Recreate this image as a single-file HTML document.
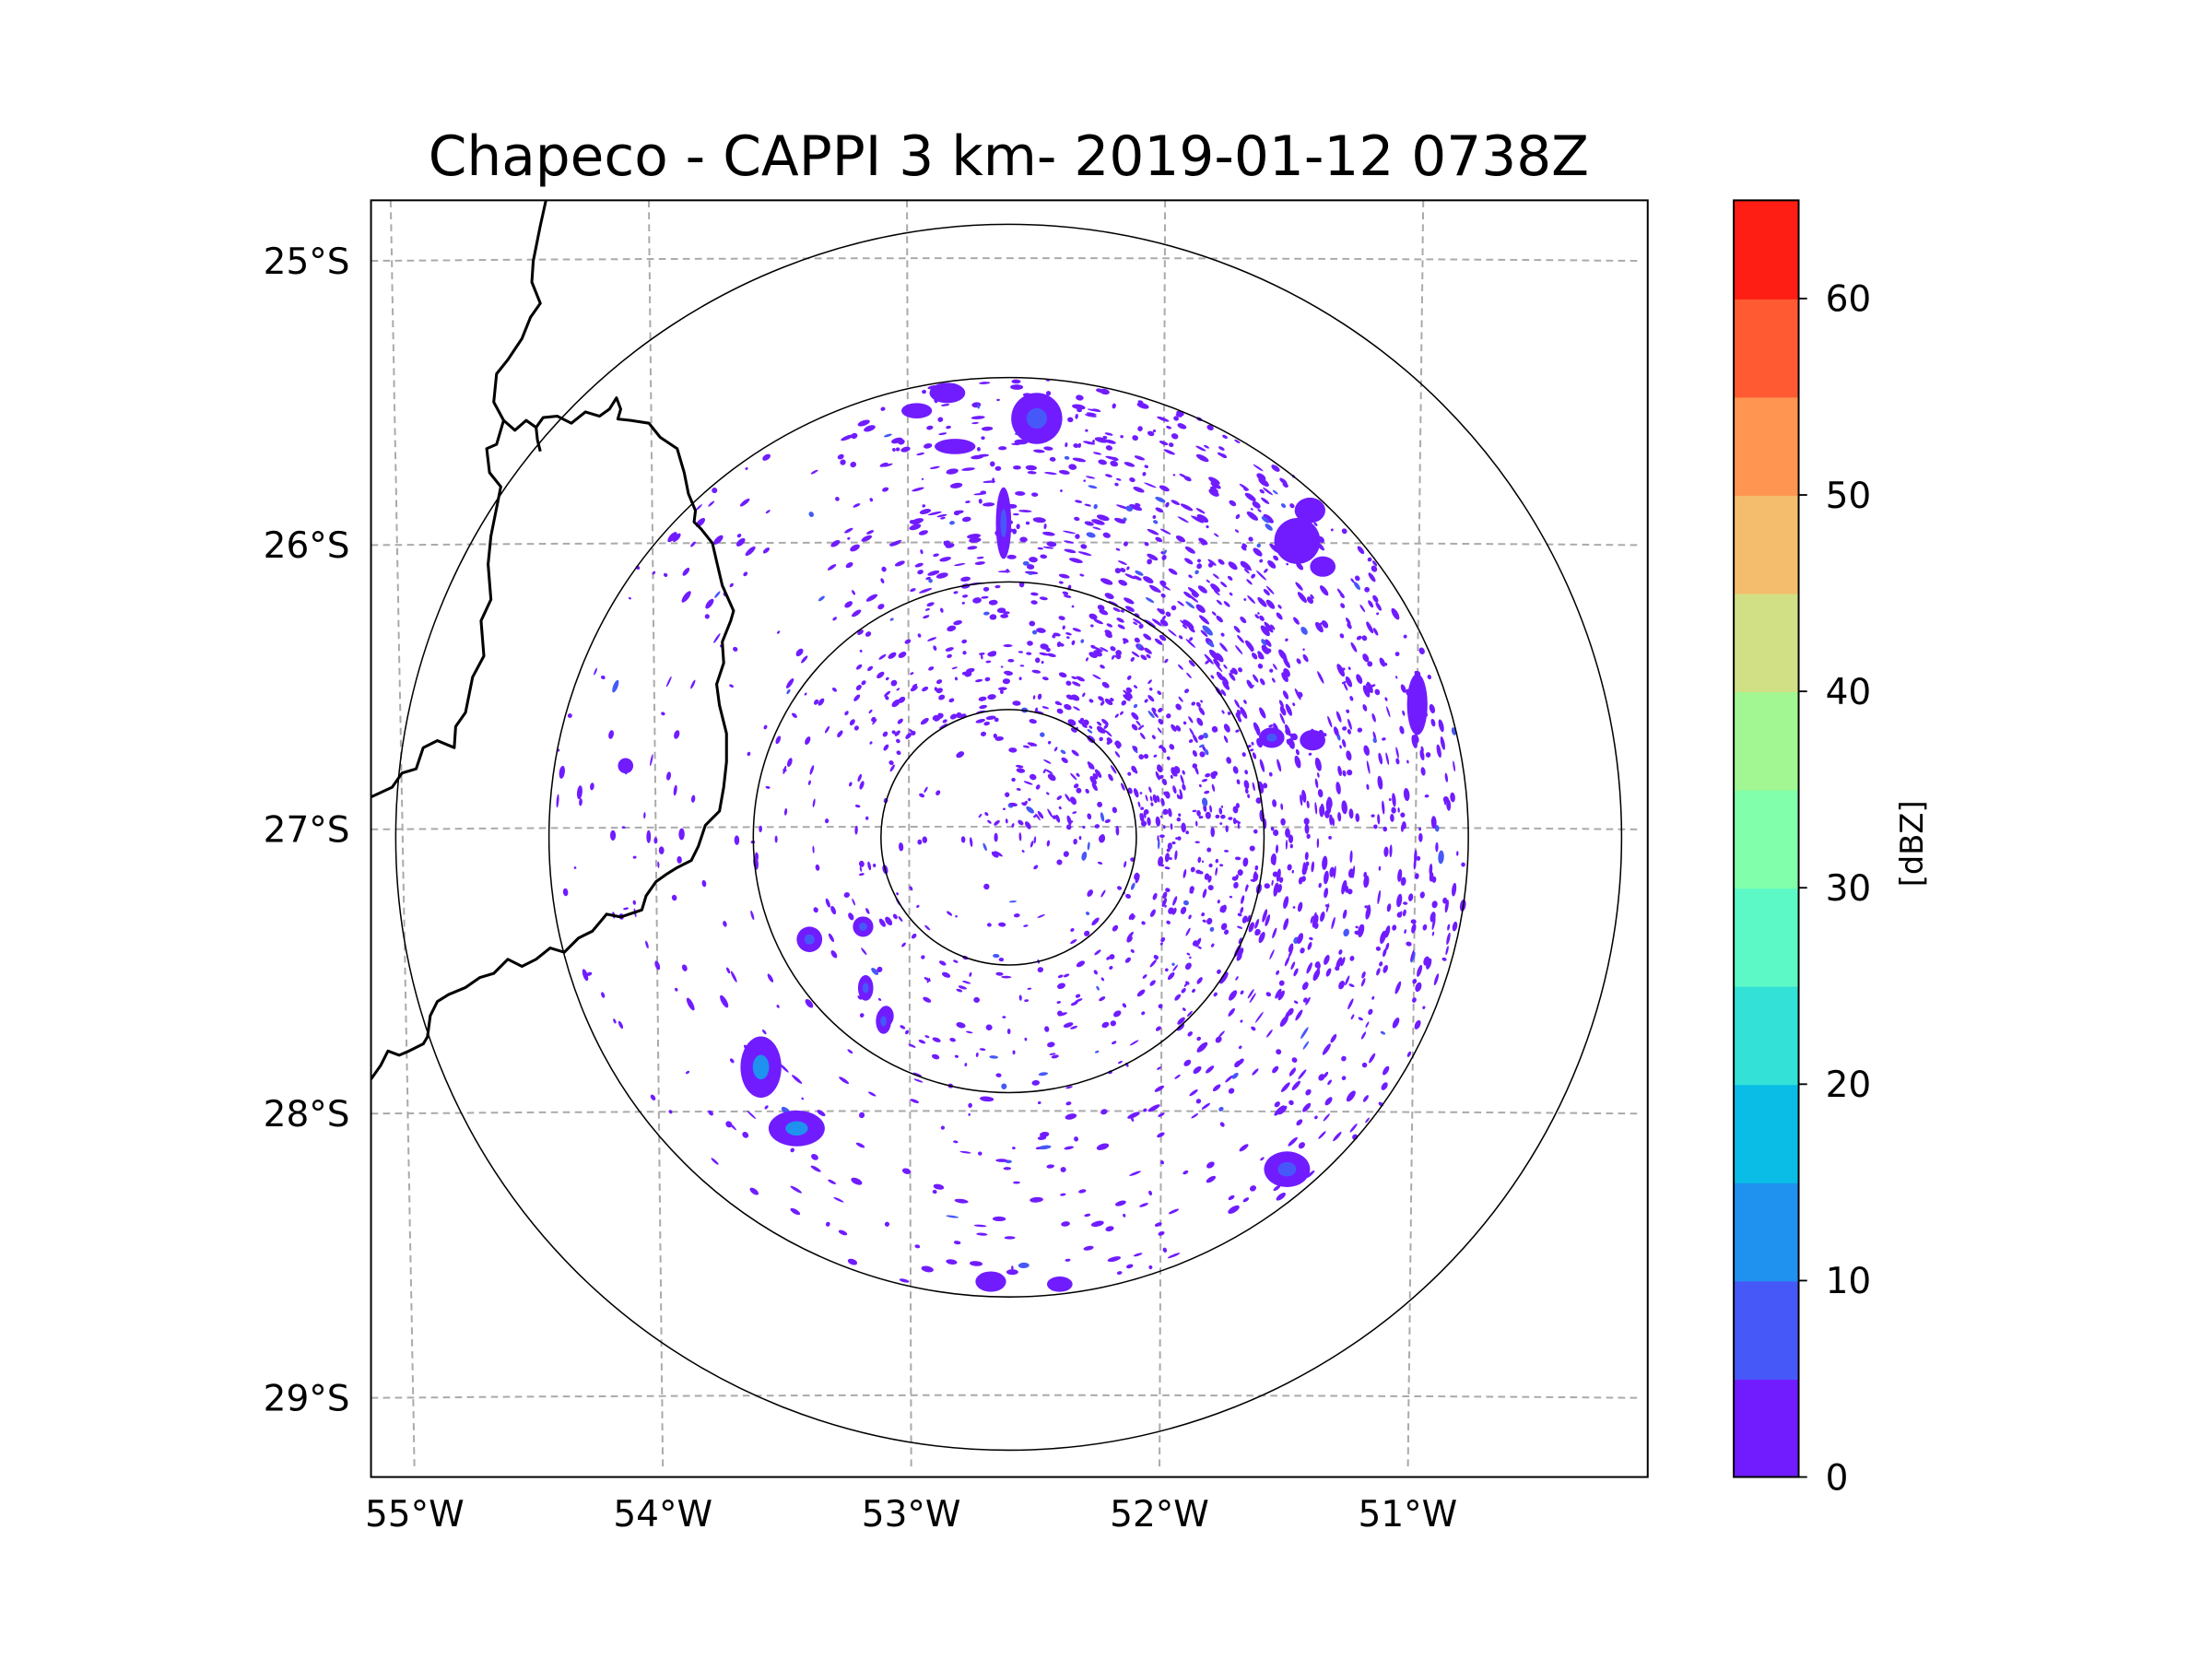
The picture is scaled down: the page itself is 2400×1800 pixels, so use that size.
<!DOCTYPE html>
<html>
<head>
<meta charset="utf-8">
<style>
  html,body{margin:0;padding:0;background:#fff;}
  svg{display:block;}
  text{font-family:"DejaVu Sans","Liberation Sans",sans-serif;fill:#000;}
</style>
</head>
<body>
<svg id="fig" width="2400" height="1800" viewBox="0 0 1568 1176" xmlns="http://www.w3.org/2000/svg">
  <rect x="0" y="0" width="1568" height="1176" fill="#fff"/>
  <text x="715" y="124" font-size="39" text-anchor="middle">Chapeco - CAPPI 3 km- 2019-01-12 0738Z</text>
  <defs>
    <clipPath id="plotclip"><rect x="263" y="142" width="905" height="905"/></clipPath>
  </defs>
  <g id="plot" clip-path="url(#plotclip)">
    <g id="grid"></g>
    <g id="echoes"></g>
    <g id="rings"></g>
    <g id="borders"></g>
  </g>
  <rect x="263" y="142" width="905" height="905" fill="none" stroke="#000" stroke-width="1.3"/>
  <g id="xticks"></g>
  <g id="yticks"></g>
  <g id="cbar"></g>
  <text transform="translate(1363,598) rotate(-90)" font-size="22" text-anchor="middle">[dBZ]</text>
</svg>
<script>
// ---- data ----
const cbarLevels = [0,5,10,15,20,25,30,35,40,45,50,55,60,65];
const cbarColors = ["#701cff","#4659f8","#1f91ee","#0abde6","#34e1d6","#5cf8c6","#82ffaa","#a2f792","#d1e085","#f4bd6d","#ff9550","#ff5a32","#ff1e14"];
const cbarTicks = [0,10,20,30,40,50,60];
const lonTicks = [-55,-54,-53,-52,-51];
const latTicks = [-25,-26,-27,-28,-29];
const ringKm = [50,100,180,240];
// major echo cells: [dx_km, dy_km (south +), rx_km, ry_km, dBZ]
const cellDx = [11,-2,113,103,119,160,-97,-83,-78,-57,-56,-48,-49,-36,-24,109,-7,20,-21,-150,118,123];
const cellDy = [-164,-123,-116,-39,-38,-52,90,114,40,35,59,70,72,-167,-174,130,174,175,-153,-28,-128,-106];
const cellRx = [10,3,9,5,5,4,8,11,5,4,3,3,3,6,7,9,6,5,8,3,6,5];
const cellRy = [10,14,9,4,4,12,12,7,5,4,5,4,5,3,4,7,4,3,3,3,5,4];
const cellDbz = [8,8,4,6,4,4,12,11,8,6,6,6,6,2,2,6,2,2,2,2,2,2];

// ---- geometry ----
const CX = 715, CY = 593.5, PXKM = 1.8103;
const X0=263,X1=1168,Y0=142,Y1=1047;
const NS="http://www.w3.org/2000/svg";
function mk(tag, attrs, parent){const e=document.createElementNS(NS,tag);for(const k in attrs)e.setAttribute(k,attrs[k]);parent.appendChild(e);return e;}
function kScale(y){return 183 + (176-183)*(y-Y0)/(Y1-Y0);}
function lonX(lon,y){return 721.6 + (lon+52.57)*kScale(y);}
function latY(lat,x){const u=(x-715)/460;return 185 + (-25-lat)*201.5 - 2*(1-u*u);}
function kmX(d){return CX + d*PXKM;}
function kmY(d){return CY + d*PXKM;}
function colorFor(v){let i=Math.floor(v/5);if(i<0)i=0;if(i>12)i=12;return cbarColors[i];}

// gridlines
const grid=document.getElementById('grid');
[-55,-54,-53,-52,-51,-50].forEach(lon=>{
  let d="";for(let y=Y0;y<=Y1;y+=15){d+=(y===Y0?"M":"L")+lonX(lon,y).toFixed(1)+","+y;}
  const p=mk('path',{d:d,fill:'none',stroke:'#aaaaaa','stroke-width':1.3,'stroke-dasharray':'5,3.5'},grid);
  
  
});
latTicks.forEach(lat=>{
  let d="";for(let x=X0;x<=X1;x+=15){d+=(x===X0?"M":"L")+x+","+latY(lat,x).toFixed(1);}
  const p=mk('path',{d:d,fill:'none',stroke:'#aaaaaa','stroke-width':1.3,'stroke-dasharray':'5,3.5'},grid);
  
  
});

// tick labels
const xt=document.getElementById('xticks');
lonTicks.forEach(lon=>{
  const t=mk('text',{x:lonX(lon,Y1).toFixed(1),y:1082,'font-size':25.5,'text-anchor':'middle'},xt);
  t.textContent=Math.abs(lon)+"°W";
  
  
});
const yt=document.getElementById('yticks');
latTicks.forEach(lat=>{
  const t=mk('text',{x:248,y:(latY(lat,X0)+9).toFixed(1),'font-size':25.5,'text-anchor':'end'},yt);
  t.textContent=Math.abs(lat)+"°S";
  
  
});

// speckle echoes (texture)
const ech=document.getElementById('echoes');
let seed=12345;function rnd(){seed=(seed*1103515245+12345)%2147483648;return seed/2147483648;}
for(let i=0;i<6500;i++){
  const r=8+rnd()*318, th=rnd()*Math.PI*2;
  let w=0.2+0.6*Math.max(0,Math.cos(th+0.45));
  if(Math.sin(th)<-0.5) w+=0.15;
  if(r<90) w*=0.35*(r/90);
  else if(r<180) w*=0.8;
  if(r>180 && Math.cos(th)<-0.3) w*=0.55;
  if(rnd()>w) continue;
  const x=CX+r*Math.cos(th), y=CY+r*Math.sin(th);
  const rx=0.8+rnd()*(r>180?4.2:2.8), ry=0.7+rnd()*1.4;
  const ang=th*180/Math.PI+90;
  const e=mk('ellipse',{cx:x.toFixed(1),cy:y.toFixed(1),rx:rx.toFixed(1),ry:ry.toFixed(1),fill:rnd()<0.05?"#4659f8":"#701cff",transform:`rotate(${ang.toFixed(0)} ${x.toFixed(1)} ${y.toFixed(1)})`},ech);
  
  
}
// major cells
for(let i=0;i<cellDx.length;i++){
  const x=kmX(cellDx[i]), y=kmY(cellDy[i]);
  const e=mk('ellipse',{cx:x,cy:y,rx:cellRx[i]*PXKM,ry:cellRy[i]*PXKM,fill:"#701cff"},ech);
  
  
  if(cellDbz[i]>=5){
    const c=mk('ellipse',{cx:x,cy:y,rx:cellRx[i]*PXKM*0.4,ry:cellRy[i]*PXKM*0.4,fill:colorFor(cellDbz[i])},ech);
    
    
  }
}

// rings
const rg=document.getElementById('rings');
ringKm.forEach(km=>{
  const c=mk('circle',{cx:CX,cy:CY,r:km*PXKM,fill:'none',stroke:'#000','stroke-width':1},rg);
  
  
});

// borders
const bd=document.getElementById('borders');
const bA="387,142 383,160 378,185 377,200 383,215 376,225 370,240 360,255 352,265 350,285 357,298 352,315 345,318 347,335 355,345 352,360 348,380 346,400 348,425 341,440 343,465 335,480 330,505 323,515 322,530 310,525 300,530 295,545 285,548 278,558 263,565";
const bB="357,298 365,305 373,298 380,303 385,296 395,295 405,300 415,292 425,295 432,290 437,282 440,290 438,297 447,298 460,300 468,310 480,318 485,335 488,350 493,362 492,370 497,375 505,385 508,398 512,415 520,433 518,440 512,455 513,470 508,485 510,500 515,520 515,540 513,558 510,575 500,585 495,600 490,610 480,615 472,620 465,625 458,635 455,645 440,650 430,648 420,660 410,665 400,675 390,672 380,680 370,685 360,680 350,690 340,693 330,700 318,705 310,710 305,720 303,735 300,740 290,745 283,748 275,745 270,755 263,765";
const bC="380,303 381,312 383,320";
[bA,bB,bC].forEach(pts=>{
  const p=mk('polyline',{points:pts,fill:'none',stroke:'#000','stroke-width':2,'stroke-linejoin':'round'},bd);
  
  
});

// colorbar
const cb=document.getElementById('cbar');
const CBX=1229,CBW=46,CBY0=142,CBY1=1047;
function cbY(v){return CBY1-(v-cbarLevels[0])/(cbarLevels[cbarLevels.length-1]-cbarLevels[0])*(CBY1-CBY0);}
for(let i=0;i<cbarColors.length;i++){
  const y1=cbY(cbarLevels[i+1]), y0=cbY(cbarLevels[i]);
  const r=mk('rect',{x:CBX,y:y1,width:CBW,height:(y0-y1+0.6),fill:cbarColors[i]},cb);
  
  
}
const fr=mk('rect',{x:CBX,y:CBY0,width:CBW,height:CBY1-CBY0,fill:'none',stroke:'#000','stroke-width':1.3},cb);


cbarTicks.forEach(v=>{
  const y=cbY(v);
  const l=mk('line',{x1:CBX+CBW,x2:CBX+CBW+6,y1:y,y2:y,stroke:'#000','stroke-width':1.2},cb);
  
  
  const t=mk('text',{x:CBX+CBW+19,y:y+9,'font-size':25.5},cb);
  t.textContent=v;
  
  
});
</script>
</body>
</html>
